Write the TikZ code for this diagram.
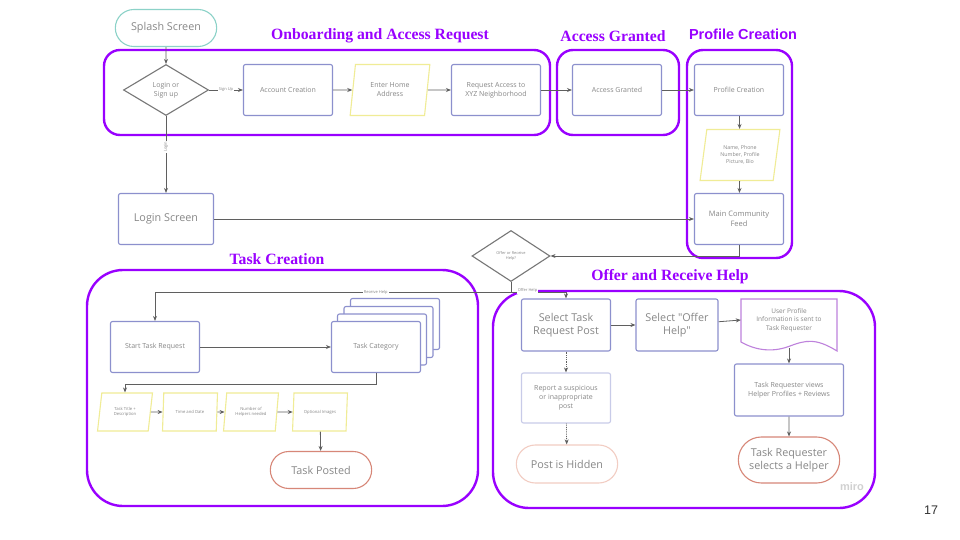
\documentclass[tikz,border=0pt]{standalone}
\usepackage{fontspec}
\setmainfont{Open Sans}
\newfontfamily\plainopen{Open Sans}
\newfontfamily\ttlserif{Liberation Serif}
\newfontfamily\ttlsans{Liberation Sans}
\usetikzlibrary{shapes.geometric,shapes.misc,shadows,arrows.meta}
\definecolor{grpc}{RGB}{153,0,255}
\definecolor{boxc}{RGB}{140,144,205}
\definecolor{faintc}{RGB}{200,203,232}
\definecolor{txtc}{RGB}{135,135,135}
\definecolor{ioc}{RGB}{240,236,150}
\definecolor{tealc}{RGB}{140,210,200}
\definecolor{salmc}{RGB}{215,135,120}
\definecolor{paler}{RGB}{242,205,195}
\definecolor{docc}{RGB}{190,130,220}
\definecolor{linec}{RGB}{95,95,95}
\newcommand{\fsz}[2]{\fontsize{#1}{#2}\selectfont}

\begin{document}
\begin{tikzpicture}[x=1pt,y=-1pt,
    proc/.style={draw=boxc,line width=1.1pt,rounded corners=2pt,fill=white,minimum width=89pt,minimum height=51pt,text=txtc,align=center,inner sep=1pt,font=\fsz{7}{9}},
    io/.style={trapezium,trapezium left angle=78,trapezium right angle=102,trapezium stretches=true,draw=ioc,line width=1.1pt,minimum width=80pt,minimum height=51pt,text=txtc,align=center,inner sep=0pt,font=\fsz{5.3}{7}},
    term/.style={rounded rectangle,draw=#1,line width=1.1pt,minimum width=108pt,minimum height=37pt,text=txtc,align=center,font=\fsz{10.8}{13.5}},
    choice/.style={diamond,draw=linec!85,line width=1.1pt,inner sep=0pt,text=txtc,align=center},
    grp/.style={draw=grpc,line width=2.4pt,rounded corners=#1},
    ttl/.style={text=grpc,font=\ttlserif\bfseries\fsz{15.7}{18}},
    link/.style={draw=linec,line width=0.8pt,-{Stealth[length=5pt,width=4pt]}},
    lbl/.style={fill=white,inner sep=1pt,text=txtc,font=\fsz{4}{5}}]
    \useasboundingbox[fill=white](0,0)rectangle(960,540);

    \draw[grp=16pt](104,50)rectangle(550,135);
    \draw[grp=16pt](557,50)rectangle(679,135);
    \draw[grp=16pt](687,50)rectangle(792,258);
    \draw[grp=36pt](87,270)rectangle(478,506);
    \draw[grp=36pt](493,291)rectangle(875,508);
    \node[ttl](tonb)at(380,36){Onboarding and Access Request};
    \node[ttl](tgr)at(613,36){Access Granted};
    \node[ttl,font=\ttlsans\bfseries\fsz{14.5}{17}](tpro)at(743,34){Profile Creation};
    \node[ttl](ttask)at(277,259){Task Creation};
    \node[ttl](thelp)at(670,277){Offer and Receive Help};

    \node[term=tealc](splash)at(166,28){Splash Screen};
    \node[choice,minimum width=85pt,minimum height=51pt,aspect=1.67,font=\fsz{7}{9}](login)at(166,90){Login or\\Sign up};
    \node[proc](acct)at(288,90){Account Creation};
    \node[io,font=\fsz{7}{9}](home)at(390,90){Enter Home\\Address};
    \node[proc](reqacc)at(496,90){Request Access to\\XYZ Neighborhood};
    \node[proc](granted)at(617,90){Access Granted};
    \node[proc](profile)at(739,90){Profile Creation};
    \node[io](namep)at(740,155){Name, Phone\\Number, Profile\\Picture, Bio};
    \node[proc,font=\fsz{7.5}{10}](feed)at(739,219){Main Community\\Feed};
    \node[proc,minimum width=95pt,font=\fsz{10.8}{13}](loginscr)at(166,219){Login Screen};
    \node[choice,minimum width=78pt,minimum height=51pt,aspect=1.53,font=\fsz{3.9}{5}](offer)at(511,256){Offer or Receive\\Help?};

    \node[proc](start)at(155,347){Start Task Request};
    \node[proc,
        copy shadow={shadow xshift=19pt,shadow yshift=23pt,fill=white,draw=boxc,line width=1.1pt},
        copy shadow={shadow xshift=12.5pt,shadow yshift=15pt,fill=white,draw=boxc,line width=1.1pt},
        copy shadow={shadow xshift=6pt,shadow yshift=7.5pt,fill=white,draw=boxc,line width=1.1pt}](tcat)at(376,347){Task Category};
    \node[io,minimum width=55pt,minimum height=38pt,font=\fsz{4.2}{5.5}](p1)at(125,412){Task Title +\\Description};
    \node[io,minimum width=55pt,minimum height=38pt,font=\fsz{4.2}{5.5}](p2)at(190,412){Time and Date};
    \node[io,minimum width=55pt,minimum height=38pt,font=\fsz{4.2}{5.5}](p3)at(251,412){Number of\\Helpers needed};
    \node[io,minimum width=55pt,minimum height=38pt,font=\fsz{4.2}{5.5}](p4)at(320,412){Optional Images};
    \node[term=salmc](posted)at(321,470){Task Posted};

    \node[proc,minimum height=52pt,font=\fsz{10.8}{13.5}](selpost)at(566,325){Select Task\\Request Post};
    \node[proc,minimum width=82pt,minimum height=52pt,font=\plainopen\fsz{10.8}{13.5}](seloffer)at(677,325){Select "Offer\\Help"};
    \node[minimum width=96pt,minimum height=42pt,inner sep=0pt,text=txtc,align=center,font=\fsz{6.5}{8.5}](upi)at(789,320){User Profile\\Information is sent to\\Task Requester};
    \draw[draw=docc,line width=1.1pt](741,299)--(837,299)--(837,351)..controls(816,338)and(806,340)..(790,346)..controls(772,353)and(755,350)..(741,342)--cycle;
    \node[proc,minimum width=109pt,minimum height=52pt](views)at(789,390){Task Requester views\\Helper Profiles + Reviews};
    \node[term=salmc,minimum height=46pt](selects)at(789,460){Task Requester\\selects a Helper};
    \node[proc,draw=faintc,minimum height=50pt](report)at(566,398){Report a suspicious\\or inappropriate\\post};
    \node[term=paler,minimum height=38pt](hidden)at(567,464){Post is Hidden};

    \node[text=black!18,font=\ttlsans\bfseries\fsz{11}{13}](miro)at(852,487){miro};
    \node[text=black!80,font=\ttlsans\fsz{12.5}{15}](pnum)at(931,510){17};

    \draw[link](splash)--(login);
    \draw[link](login)--node[lbl]{Sign Up}(acct);
    \draw[link](acct)--(home);
    \draw[link](home)--(reqacc);
    \draw[link](reqacc)--(granted);
    \draw[link](granted)--(profile);
    \draw[link](profile)--(namep);
    \draw[link](namep)--(feed);
    \draw[link](login)--node[lbl,rotate=90,pos=0.4]{Login}(loginscr);
    \draw[link](loginscr)--(feed);
    \draw[link](feed.south)|-(offer.east);
    \draw[link](offer.south)--++(0,10)-|node[lbl,pos=0.19]{Receive Help}(start.north);
    \draw[link](offer.south)--++(0,10)-|node[lbl,pos=0.15,above=-2pt]{Offer Help}(selpost.north);
    \draw[link](start)--(tcat);
    \draw[link](tcat.south)--++(0,11)-|(p1.north);
    \draw[link](p1)--(p2);
    \draw[link](p2)--(p3);
    \draw[link](p3)--(p4);
    \draw[link](p4)--(posted);
    \draw[link](selpost)--(seloffer);
    \draw[link](seloffer)--(upi.west);
    \draw[link]([yshift=-7pt]upi.south)--(views);
    \draw[link](views)--(selects);
    \draw[link,densely dotted](selpost)--(report);
    \draw[link,densely dotted](report)--(hidden);
\end{tikzpicture}
\end{document}
